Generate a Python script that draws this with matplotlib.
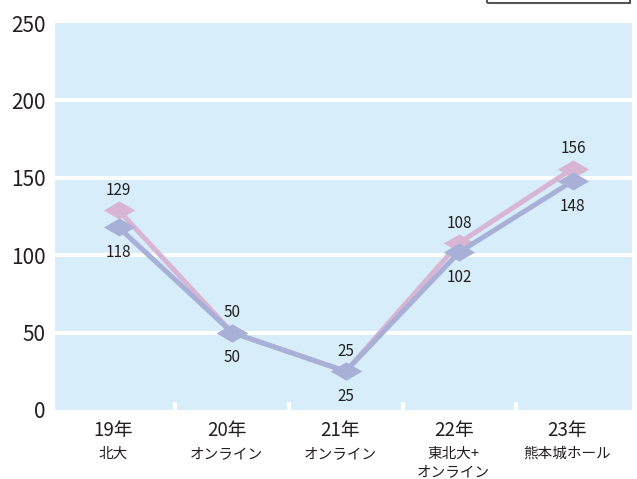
#!/usr/bin/env python3

import numpy as np
from matplotlib import pyplot as plt
from matplotlib.patches import Rectangle

plt.rcParams['font.family'] = ['Noto Sans CJK JP', 'DejaVu Sans']

years = ['19年', '20年', '21年', '22年', '23年']
places = ['北大', 'オンライン', 'オンライン', '東北大+\nオンライン', '熊本城ホール']
pink_vals = [129, 50, 25, 108, 156]
blue_vals = [118, 50, 25, 102, 148]
yticks = [0, 50, 100, 150, 200, 250]

PINK = '#d8b5d3'
BLUE = '#a9b0d8'
TXT = '#231f20'
BG = '#d7eefa'

# flat diamond marker
dia = [(-1, 0), (0, 0.58), (1, 0), (0, -0.58), (-1, 0)]


def main():
    fig = plt.figure(figsize=(6.37, 4.79), dpi=100)
    ax = fig.add_axes([55/637, 1 - 410/479, 577/637, 387/479])
    ax.set_facecolor(BG)
    for s in ax.spines.values():
        s.set_visible(False)

    xs = np.arange(len(years))
    ax.set_xlim(-0.56, 4.52)
    ax.set_ylim(0, 250)

    for v in yticks[1:-1]:
        ax.axhline(v, color='white', lw=2.9, zorder=1)

    ax.plot(xs, pink_vals, color=PINK, lw=3.6, marker=dia, ms=22.5,
            mec='none', zorder=3)
    ax.plot(xs, blue_vals, color=BLUE, lw=3.6, marker=dia, ms=22.5,
            mec='none', zorder=4)

    for x, p, b in zip(xs, pink_vals, blue_vals):
        ax.annotate(str(p), (x, p), xytext=(0, 8), textcoords='offset points',
                    ha='center', va='bottom', fontsize=11, color=TXT, zorder=5)
        ax.annotate(str(b), (x, b), xytext=(0, -12), textcoords='offset points',
                    ha='center', va='top', fontsize=11, color=TXT, zorder=5)

    ax.set_yticks(yticks)
    ax.set_yticklabels([str(v) for v in yticks], fontsize=15, color=TXT)
    ax.tick_params(axis='y', length=0, pad=7)

    # white separators between categories
    ax.set_xticks(xs[:-1] + 0.5)
    ax.set_xticklabels([])
    ax.tick_params(axis='x', direction='in', length=6, width=3, color='white')

    trans = ax.get_xaxis_transform()
    for x, yr, pl in zip(xs, years, places):
        ax.text(x - 0.05, -0.025, yr, transform=trans, ha='center', va='top',
                fontsize=13.5, color=TXT)
        ax.text(x - 0.05, -0.095, pl, transform=trans, ha='center', va='top',
                fontsize=10.5, color=TXT, linespacing=1.35)

    # cut-off legend frame at the top right
    fig.patches.append(Rectangle((487/637, 1 - 3/479), 143/637, 0.05,
                                 transform=fig.transFigure, fill=False,
                                 edgecolor='#555555', lw=1.5))

    fig.savefig('out.png', dpi=100)


if __name__ == '__main__':
    main()
